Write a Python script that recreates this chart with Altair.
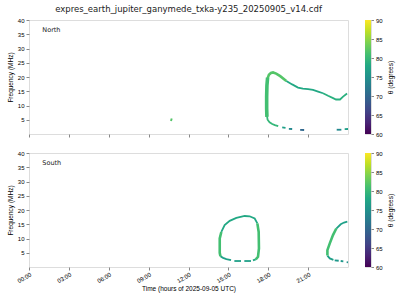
import altair as alt
import pandas as pd

# ---------------- data (hours of day, MHz, theta degrees) ----------------
# North hemisphere segments
n_blob_t = [10.64, 10.78]
n_blob_f = [5.1, 4.9]
n_blob_theta = 82

n_vert_t = [17.9, 17.88, 17.88, 17.9, 17.95]
n_vert_f = [6.0, 9.0, 13.0, 17.0, 19.8]
n_vert_theta = 81

n_arc_t = [17.95, 18.05, 18.2, 18.36, 18.6, 18.9, 19.36]
n_arc_f = [19.5, 20.8, 21.4, 21.6, 21.2, 20.3, 18.6]
n_arc_theta = 82

n_tail_t = [19.36, 19.8, 20.24, 20.6, 21.0, 21.37, 21.75, 22.12]
n_tail_f = [18.6, 17.4, 16.3, 15.9, 15.75, 15.5, 14.9, 14.3]
n_tail_theta = 78

n_trough_t = [22.12, 22.5, 22.88, 23.1, 23.4, 23.63, 23.93]
n_trough_f = [14.3, 13.4, 12.6, 12.1, 12.1, 13.1, 14.2]
n_trough_theta = 79

n_low_t = [17.9, 17.95, 18.1, 18.3, 18.5, 18.75]
n_low_f = [6.5, 5.0, 4.1, 3.5, 3.1, 2.75]
n_low_theta = 80

n_d1_t, n_d1_f, n_d1_theta = [19.05, 19.3], [2.3, 2.15], 77
n_d2_t, n_d2_f, n_d2_theta = [19.55, 19.8], [1.8, 1.75], 74
n_d3_t, n_d3_f, n_d3_theta = [20.4, 20.7], [1.45, 1.4], 70
n_d4_t, n_d4_f, n_d4_theta = [23.15, 23.5], [1.5, 1.5], 74
n_d5_t, n_d5_f, n_d5_theta = [23.75, 24.0], [1.7, 1.75], 77

# South hemisphere segments
s1_left_t = [14.4, 14.35, 14.35, 14.47]
s1_left_f = [3.8, 5.0, 10.0, 12.3]
s1_left_theta = 81

s1_top_t = [14.47, 14.72, 15.1, 15.6, 16.23, 16.6, 16.98, 17.18]
s1_top_f = [12.3, 14.7, 16.2, 17.2, 17.9, 17.8, 17.0, 15.3]
s1_top_theta = 78

s1_right_t = [17.18, 17.28, 17.3, 17.23, 17.06]
s1_right_f = [15.3, 12.3, 6.5, 3.6, 2.7]
s1_right_theta = 81

s1_bot_t = [14.4, 14.6, 14.85, 15.2]
s1_bot_f = [3.8, 3.2, 2.8, 2.4]
s1_bot_theta = 77
s1_d1_t, s1_d1_f, s1_d1_theta = [15.45, 15.95], [2.1, 2.1], 77
s1_d2_t, s1_d2_f, s1_d2_theta = [16.2, 16.7], [2.1, 2.1], 77
s1_d3_t, s1_d3_f, s1_d3_theta = [16.85, 17.06], [2.3, 2.7], 78

s2_left_t = [22.45, 22.45, 22.63, 22.87, 23.12]
s2_left_f = [4.0, 5.9, 8.3, 11.2, 13.5]
s2_left_theta = 81

s2_top_t = [23.12, 23.45, 23.7, 23.95]
s2_top_f = [13.5, 15.0, 15.6, 15.9]
s2_top_theta = 77

s2_bot_t = [22.45, 22.63, 22.9]
s2_bot_f = [4.0, 3.0, 2.5]
s2_bot_theta = 77
s2_d1_t, s2_d1_f, s2_d1_theta = [23.0, 23.3], [2.3, 2.2], 76
s2_d2_t, s2_d2_f, s2_d2_theta = [23.45, 23.65], [2.1, 2.0], 76
s2_d3_t, s2_d3_f, s2_d3_theta = [23.9, 24.0], [1.7, 1.65], 75

x_ticks = [0, 3, 6, 9, 12, 15, 18, 21]
y_tick_count = 8          # 0, 5, ..., 40 (0 unlabelled)
cbar_ticks = [60, 65, 70, 75, 80, 85, 90]
panel_names = ["North", "South"]
label_t = [1.0, 1.0]
label_f = [36.5, 36.5]

segments = {
    "North": [
        ("n_blob", n_blob_t, n_blob_f, n_blob_theta),
        ("n_vert", n_vert_t, n_vert_f, n_vert_theta),
        ("n_arc", n_arc_t, n_arc_f, n_arc_theta),
        ("n_tail", n_tail_t, n_tail_f, n_tail_theta),
        ("n_trough", n_trough_t, n_trough_f, n_trough_theta),
        ("n_low", n_low_t, n_low_f, n_low_theta),
        ("n_d1", n_d1_t, n_d1_f, n_d1_theta),
        ("n_d2", n_d2_t, n_d2_f, n_d2_theta),
        ("n_d3", n_d3_t, n_d3_f, n_d3_theta),
        ("n_d4", n_d4_t, n_d4_f, n_d4_theta),
        ("n_d5", n_d5_t, n_d5_f, n_d5_theta),
    ],
    "South": [
        ("s1_left", s1_left_t, s1_left_f, s1_left_theta),
        ("s1_top", s1_top_t, s1_top_f, s1_top_theta),
        ("s1_right", s1_right_t, s1_right_f, s1_right_theta),
        ("s1_bot", s1_bot_t, s1_bot_f, s1_bot_theta),
        ("s1_d1", s1_d1_t, s1_d1_f, s1_d1_theta),
        ("s1_d2", s1_d2_t, s1_d2_f, s1_d2_theta),
        ("s1_d3", s1_d3_t, s1_d3_f, s1_d3_theta),
        ("s2_left", s2_left_t, s2_left_f, s2_left_theta),
        ("s2_top", s2_top_t, s2_top_f, s2_top_theta),
        ("s2_bot", s2_bot_t, s2_bot_f, s2_bot_theta),
        ("s2_d1", s2_d1_t, s2_d1_f, s2_d1_theta),
        ("s2_d2", s2_d2_t, s2_d2_f, s2_d2_theta),
        ("s2_d3", s2_d3_t, s2_d3_f, s2_d3_theta),
    ],
}

rows = []
for panel, segs in segments.items():
    for name, ts, fs, th in segs:
        for i, (t, f) in enumerate(zip(ts, fs)):
            rows.append({"panel": panel, "seg": name, "i": i, "t": t, "f": f, "theta": th})
df = pd.DataFrame(rows)

# style groups (stroke widths)
thick = ["n_vert"]
medium = ["n_blob", "n_arc", "s1_left", "s1_right", "s2_left"]

FONT = "DejaVu Sans"
TXT = "#222222"
W, H = 319, 114

color_scale = alt.Scale(scheme="viridis", domain=[60, 90])


def panel_chart(panel, bottom):
    d = df[df["panel"] == panel]
    xaxis = alt.Axis(
        values=x_ticks,
        labels=bottom,
        title="Time (hours of 2025-09-05 UTC)" if bottom else None,
        labelExpr="(datum.value < 10 ? '0' : '') + datum.value + ':00'",
        labelAngle=330,
        labelAlign="right",
        labelBaseline="top",
        labelFontSize=6,
        labelPadding=1,
        labelOverlap=False,
        titleFontSize=6.5,
        titleFontWeight="normal",
        titlePadding=2,
        tickSize=3,
        domain=False,
        grid=False,
    )
    yaxis = alt.Axis(
        tickCount=y_tick_count,
        labelExpr="datum.value == 0 ? '' : datum.label",
        tickOpacity=alt.ExprRef("datum.value == 0 ? 0 : 1"),
        title="Frequency (MHz)",
        labelFontSize=6,
        labelOverlap=False,
        titleFontSize=6.5,
        titleFontWeight="normal",
        titlePadding=4,
        tickSize=3,
        labelPadding=2,
        domain=False,
        grid=False,
    )
    xs = alt.Scale(domain=[0, 24], nice=False)
    ys = alt.Scale(domain=[0, 40], nice=False)
    base = alt.Chart(d).encode(
        x=alt.X("t:Q", scale=xs, axis=xaxis),
        y=alt.Y("f:Q", scale=ys, axis=yaxis),
        color=alt.Color("theta:Q", scale=color_scale, legend=None),
        detail="seg:N",
        order="i:Q",
    )
    thin_l = base.transform_filter(
        ~alt.FieldOneOfPredicate(field="seg", oneOf=thick + medium)
    ).mark_line(strokeWidth=1.8)
    med_l = base.transform_filter(
        alt.FieldOneOfPredicate(field="seg", oneOf=medium)
    ).mark_line(strokeWidth=2.6)
    thick_l = base.transform_filter(
        alt.FieldOneOfPredicate(field="seg", oneOf=thick)
    ).mark_line(strokeWidth=3.6)
    idx = panel_names.index(panel)
    lab = alt.Chart(
        pd.DataFrame({"t": [label_t[idx]], "f": [label_f[idx]], "txt": [panel]})
    ).mark_text(align="left", baseline="middle", fontSize=6.5, font=FONT, color=TXT).encode(
        x=alt.X("t:Q", scale=xs, axis=xaxis),
        y=alt.Y("f:Q", scale=ys, axis=yaxis),
        text="txt:N",
    )
    ch = alt.layer(thin_l, med_l, thick_l, lab).properties(width=W, height=H)
    return ch


def colorbar():
    grad = alt.LinearGradient(
        gradient="linear",
        x1=0, x2=0, y1=1, y2=0,
        stops=[
            alt.GradientStop(color="#440154", offset=0.0),
            alt.GradientStop(color="#482475", offset=0.1),
            alt.GradientStop(color="#414487", offset=0.2),
            alt.GradientStop(color="#355f8d", offset=0.3),
            alt.GradientStop(color="#2a788e", offset=0.4),
            alt.GradientStop(color="#21918c", offset=0.5),
            alt.GradientStop(color="#22a884", offset=0.6),
            alt.GradientStop(color="#44bf70", offset=0.7),
            alt.GradientStop(color="#7ad151", offset=0.8),
            alt.GradientStop(color="#bddf26", offset=0.9),
            alt.GradientStop(color="#fde725", offset=1.0),
        ],
    )
    return alt.Chart(
        pd.DataFrame({"lo": [cbar_ticks[0]], "hi": [cbar_ticks[-1]]})
    ).mark_rect(color=grad).encode(
        y=alt.Y(
            "lo:Q",
            scale=alt.Scale(domain=[cbar_ticks[0], cbar_ticks[-1]], nice=False),
            axis=alt.Axis(
                orient="right",
                values=cbar_ticks,
                title="θ (degrees)",
                titleAngle=270,
                titleBaseline="bottom",
                labelFontSize=6,
                labelOverlap=False,
                titleFontSize=6.5,
                titleFontWeight="normal",
                tickSize=2.5,
                labelPadding=2,
                titlePadding=11,
                domain=False,
                grid=False,
            ),
        ),
        y2="hi:Q",
    ).properties(width=6, height=H)


top = alt.hconcat(
    panel_chart("North", False).properties(
        title=alt.TitleParams(
            "expres_earth_jupiter_ganymede_txka-y235_20250905_v14.cdf",
            fontSize=8.5, font=FONT, fontWeight="normal", color=TXT,
            anchor="middle", frame="group", offset=4,
        )
    ),
    colorbar(),
    spacing=11,
)
bottom = alt.hconcat(panel_chart("South", True), colorbar(), spacing=11)

chart = alt.vconcat(top, bottom, spacing=11).properties(
    padding={"left": 6, "top": 4, "right": 5, "bottom": 5}
).configure_view(
    stroke="#333333", strokeWidth=0.8
).configure_axis(
    labelFont=FONT, titleFont=FONT, labelColor=TXT, titleColor=TXT,
    tickColor="#333333", tickWidth=0.8, titleFontWeight="normal",
).configure(background="white")

chart.save("out.html", embed_options={"renderer": "svg", "actions": False})
